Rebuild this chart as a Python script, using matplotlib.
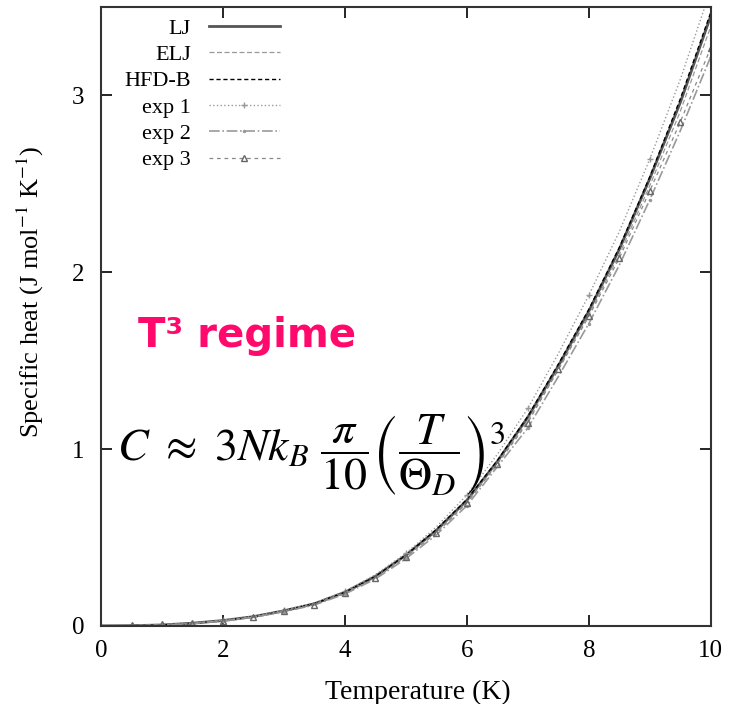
import matplotlib
matplotlib.use("Agg")
import matplotlib.pyplot as plt

plt.rcParams['font.family'] = ['Liberation Serif', 'DejaVu Serif']
plt.rcParams['mathtext.fontset'] = 'stix'

# temperature grid (K)
T = [0, 0.5, 1, 1.5, 2, 2.5, 3, 3.5, 4, 4.5, 5, 5.5, 6, 6.5, 7, 7.5, 8, 8.5, 9, 9.5, 10]

# simulated specific heat (J mol^-1 K^-1)
lj = [0, 0.001, 0.005, 0.015, 0.03, 0.052, 0.085, 0.125, 0.19, 0.28, 0.40, 0.54,
      0.71, 0.93, 1.18, 1.47, 1.78, 2.13, 2.53, 2.96, 3.45]
elj = [0, 0.001, 0.005, 0.014, 0.029, 0.05, 0.083, 0.122, 0.187, 0.275, 0.395, 0.53,
       0.70, 0.92, 1.16, 1.45, 1.76, 2.10, 2.49, 2.91, 3.39]
hfdb = [0, 0.001, 0.005, 0.015, 0.03, 0.052, 0.086, 0.126, 0.19, 0.28, 0.40, 0.545,
        0.715, 0.935, 1.185, 1.48, 1.79, 2.14, 2.54, 2.98, 3.47]

# experimental data
exp1 = [0, 0.001, 0.005, 0.015, 0.031, 0.054, 0.088, 0.13, 0.195, 0.29, 0.41, 0.56,
        0.74, 0.97, 1.23, 1.54, 1.87, 2.23, 2.64, 3.09, 3.60]
exp2 = [0, 0.001, 0.004, 0.013, 0.028, 0.049, 0.08, 0.118, 0.18, 0.265, 0.38, 0.515,
        0.68, 0.90, 1.12, 1.41, 1.71, 2.04, 2.41, 2.80, 3.22]
T3 = [0.5, 1, 1.5, 2, 2.5, 3, 3.5, 4, 4.5, 5, 5.5, 6, 6.5, 7, 7.5, 8, 8.5, 9, 9.5, 10]
exp3 = [0.004, 0.008, 0.016, 0.03, 0.05, 0.082, 0.12, 0.185, 0.27, 0.39, 0.525, 0.695,
        0.915, 1.15, 1.45, 1.75, 2.08, 2.46, 2.85, 3.27]

fig = plt.figure(figsize=(7.32, 7.04), dpi=100)
ax = fig.add_axes([0.138, 0.111, 0.833, 0.879])

ax.plot(T, lj, color='#555555', lw=2.0, label='LJ')
ax.plot(T, elj, color='#999999', lw=0.9, ls=(0, (4, 2)), label='ELJ')
ax.plot(T, hfdb, color='black', lw=1.0, ls=(0, (3, 2)), label='HFD-B')
ax.plot(T, exp1, color='#999999', lw=1.0, ls=':', marker='+', ms=4, markevery=2, label='exp 1')
ax.plot(T, exp2, color='#999999', lw=1.2, ls='-.', marker='.', ms=3, markevery=2, label='exp 2')
ax.plot(T3, exp3, color='#888888', lw=0.9, ls=(0, (3, 3)), marker='^', ms=5,
        mfc='none', mec='#666666', label='exp 3')

ax.set_xlim(0, 10)
ax.set_ylim(0, 3.5)
ax.set_xticks([0, 2, 4, 6, 8, 10])
ax.set_yticks([0, 1, 2, 3])
ax.tick_params(direction='in', length=8, width=1.2, top=True, right=True, labelsize=18)
ax.tick_params(axis='x', pad=10)
ax.tick_params(axis='y', pad=12)
for s in ax.spines.values():
    s.set_linewidth(1.5)
    s.set_color('#333333')

ax.set_xlabel('Temperature (K)', fontsize=20)
ax.set_ylabel('Specific heat (J mol$^{-1}$ K$^{-1}$)', fontsize=19)
ax.xaxis.set_label_coords(0.52, -0.087)
ax.yaxis.set_label_coords(-0.09, 0.54)

ax.legend(loc='upper right', bbox_to_anchor=(0.293, 0.982), frameon=False, markerfirst=False,
          fontsize=16, handlelength=3.2, labelspacing=0.26, handletextpad=0.8,
          borderpad=0, borderaxespad=0)

ax.text(0.06, 0.45, 'T³ regime', transform=ax.transAxes, fontsize=29, fontweight='bold',
        color='#ff0a6c', family='DejaVu Sans')
ax.text(0.027, 0.265,
        r'$C\ \approx\ 3Nk_B\ \dfrac{\pi}{10}\left(\dfrac{T}{\Theta_D}\right)^3$',
        transform=ax.transAxes, fontsize=33)

fig.savefig('out.png', dpi=100)
